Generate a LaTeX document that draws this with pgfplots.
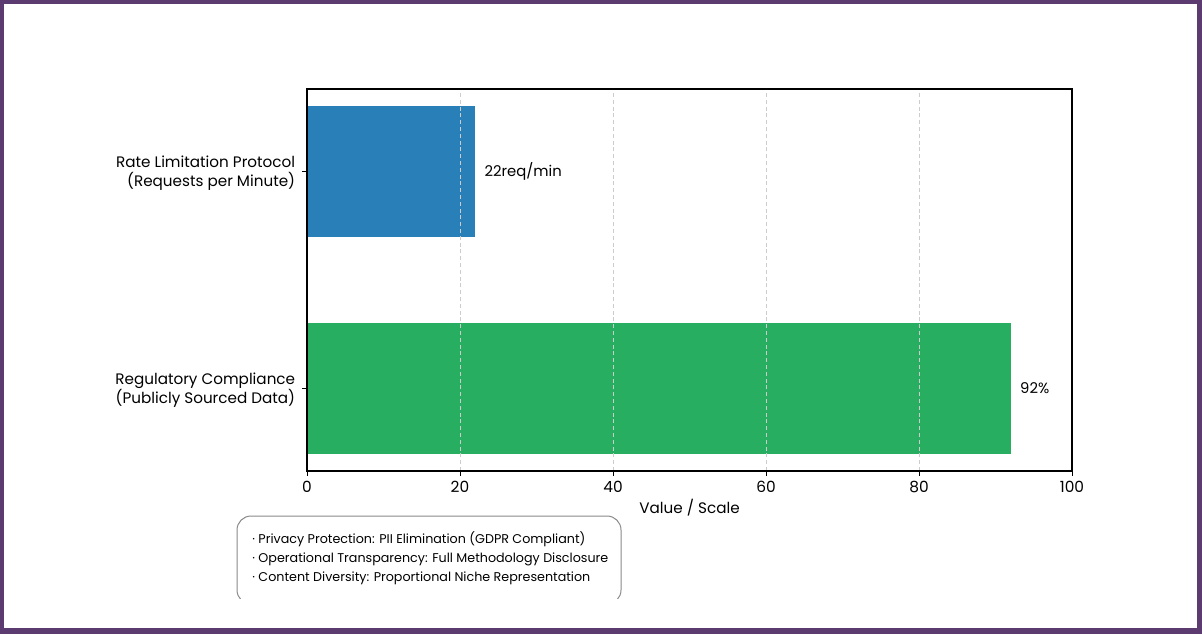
\documentclass[border=0pt]{standalone}
\usepackage{pgfplots}
\pgfplotsset{compat=1.18}
\usepackage{fontspec}
\setmainfont{Poppins}
\definecolor{frame}{HTML}{5C3B71}
\definecolor{barblue}{HTML}{2980B9}
\definecolor{bargreen}{HTML}{27AE60}
\definecolor{boxedge}{HTML}{8A8A8A}
\begin{document}
\begin{tikzpicture}
% frame: 1px = 0.5pt, picture 1202 x 634 px
\fill[frame] (0,0) rectangle (601pt,317pt);
\fill[white] (2pt,3pt) rectangle (598.5pt,315pt);
\useasboundingbox (0,0) rectangle (601pt,317pt);
\begin{axis}[
    at={(153.5pt,81.5pt)}, anchor=south west,
    scale only axis,
    width=382.5pt, height=191pt,
    xbar, bar shift=0pt, bar width=0.6,
    xmin=0, xmax=100,
    ymin=-0.38, ymax=1.38,
    xtick={0,20,40,60,80,100},
    ytick={0,1},
    yticklabels={{Regulatory Compliance\\(Publicly Sourced Data)},{Rate Limitation Protocol\\(Requests per Minute)}},
    yticklabel style={align=right, font=\fontsize{7.6pt}{9.6pt}\selectfont, yshift=-1pt},
    xticklabel style={font=\fontsize{7.7pt}{10pt}\selectfont, yshift=1pt},
    /pgf/number format/assume math mode=true,
    tick align=outside, xtick pos=bottom, ytick pos=left,
    major tick length=2.4pt,
    tick style={black, line width=0.5pt},
    axis line style={line width=0.55pt},
    xmajorgrids,
    grid style={gray!40, line width=0.4pt, dash pattern=on 2pt off 1.4pt},
    axis on top,
    xlabel={Value / Scale},
    xlabel style={font=\fontsize{7.6pt}{10pt}\selectfont, yshift=3.5pt},
    point meta=explicit symbolic,
    nodes near coords,
    nodes near coords style={anchor=west, inner sep=0pt, xshift=4.5pt, font=\fontsize{7.4pt}{10pt}\selectfont, black},
]
\addplot[fill=barblue, draw=none] coordinates {(22,1) [22req/min]};
\addplot[fill=bargreen, draw=none] coordinates {(92,0) [92\%]};
\end{axis}
% note box, clipped at the bottom as in the reference
\begin{scope}
\clip (100pt,18pt) rectangle (330pt,70pt);
\draw[boxedge, line width=0.5pt, rounded corners=7pt] (118.5pt,15pt) rectangle (310.5pt,59pt);
\end{scope}
\begin{scope}[every node/.style={anchor=west, inner sep=0pt, font=\fontsize{6.35pt}{8pt}\selectfont}]
\node at (126pt,47.5pt) {· Privacy Protection: PII Elimination (GDPR Compliant)};
\node at (126pt,37.5pt) {· Operational Transparency: Full Methodology Disclosure};
\node at (126pt,28pt) {· Content Diversity: Proportional Niche Representation};
\end{scope}
\end{tikzpicture}
\end{document}
